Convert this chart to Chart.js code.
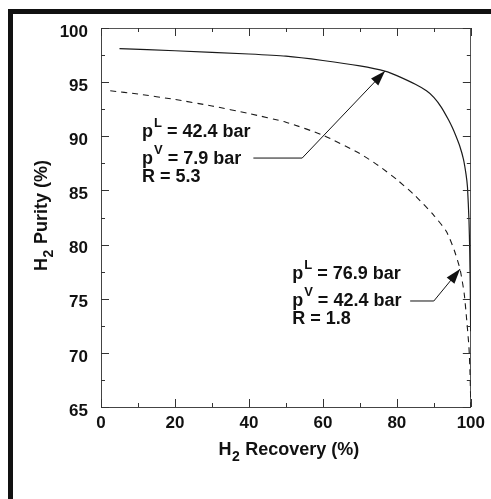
<!DOCTYPE html>
<html><head><meta charset="utf-8">
<script src="https://cdn.jsdelivr.net/npm/chart.js@4/dist/chart.umd.min.js"></script>
<style>
html,body{margin:0;padding:0;background:#fff;}
#wrap{position:relative;width:491px;height:499px;overflow:hidden;background:#fff;}
#frame{position:absolute;left:8px;top:9px;width:700px;height:700px;border-left:5px solid #111;border-top:5px solid #111;}
#box{position:absolute;left:0;top:0;width:491px;height:499px;}
</style></head><body>
<div id="wrap"><div id="frame"></div><div id="box"><canvas id="c"></canvas></div></div>
<script>
// ---- data ----
const xTicks = [0, 20, 40, 60, 80, 100];
const xMinor = [10, 30, 50, 70, 90];
const yTicks = [65, 70, 75, 80, 85, 90, 95, 100];
const yMinor = [67.5, 72.5, 77.5, 82.5, 87.5, 92.5, 97.5];

// solid curve: pL = 42.4 bar, pV = 7.9 bar, R = 5.3
const solidRecovery = [5, 20, 40, 50, 60, 70, 77, 80, 85, 88, 90, 92, 94, 95, 96, 97, 98, 98.7, 99.1, 99.5, 99.7, 99.85, 99.95];
const solidPurity   = [98.1, 97.9, 97.6, 97.4, 97.0, 96.5, 96.0, 95.6, 94.8, 94.2, 93.6, 92.7, 91.5, 90.8, 90.0, 89.1, 87.9, 86.5, 85.3, 82.3, 79.5, 76.0, 72.0];

// dashed curve: pL = 76.9 bar, pV = 42.4 bar, R = 1.8
const dashRecovery = [2.5, 10, 20, 30, 40, 50, 60, 70, 75, 80, 85, 90, 93.4, 95.5, 97.1, 98.2, 98.9, 99.5, 99.8, 100];
const dashPurity   = [94.2, 93.9, 93.4, 92.8, 92.1, 91.3, 90.1, 88.4, 87.3, 86.0, 84.5, 82.7, 81.2, 79.5, 77.7, 75.5, 73.0, 70.5, 68.0, 65.0];

const FONT = '"Liberation Sans", Arial, Helvetica, sans-serif';

// annotation labels (text, superscript, rest)
const ann1Lines = [['p', 'L', ' = 42.4 bar'], ['p', 'V', ' = 7.9 bar'], ['R', '', ' = 5.3']];
const ann2Lines = [['p', 'L', ' = 76.9 bar'], ['p', 'V', ' = 42.4 bar'], ['R', '', ' = 1.8']];
const annotations = [
  {lines: ann1Lines, at: [11.1, 89.93], start: [41.2, 87.99], knee: [54.4, 87.99], tip: [76.8, 96.02]},
  {lines: ann2Lines, at: [51.7, 76.82], start: [83.6, 74.79], knee: [90.0, 74.79], tip: [97.1, 77.74]}
];

const toPts = (xs, ys) => xs.map((x, i) => ({x: x, y: ys[i]}));

const tickPlugin = {
  id: 'inwardTicks',
  afterDatasetsDraw(chart) {
    const ctx = chart.ctx;
    const xs = chart.scales.x, ys = chart.scales.y;
    const {left, right, top, bottom} = chart.chartArea;
    ctx.save();
    ctx.strokeStyle = '#333';
    ctx.lineWidth = 1;
    const seg = (x1, y1, x2, y2) => { ctx.beginPath(); ctx.moveTo(x1, y1); ctx.lineTo(x2, y2); ctx.stroke(); };
    xTicks.forEach(v => { const p = Math.round(xs.getPixelForValue(v)) + 0.5; seg(p, bottom, p, bottom - 8); seg(p, top, p, top + 8); });
    xMinor.forEach(v => { const p = Math.round(xs.getPixelForValue(v)) + 0.5; seg(p, bottom, p, bottom - 4); seg(p, top, p, top + 4); });
    yTicks.forEach(v => { const p = Math.round(ys.getPixelForValue(v)) + 0.5; seg(left, p, left + 8, p); seg(right, p, right - 8, p); });
    yMinor.forEach(v => { const p = Math.round(ys.getPixelForValue(v)) + 0.5; seg(left, p, left + 4, p); seg(right, p, right - 4, p); });
    ctx.restore();
  }
};

const textPlugin = {
  id: 'texts',
  afterDraw(chart) {
    const ctx = chart.ctx;
    const xs = chart.scales.x, ys = chart.scales.y;
    const ca = chart.chartArea;
    ctx.save();
    ctx.fillStyle = '#111';
    ctx.strokeStyle = '#111';
    // axis titles with subscript
    const drawSub = (parts, cx, cy) => {
      const big = 'bold 18px ' + FONT, small = 'bold 14px ' + FONT;
      ctx.font = big; const w1 = ctx.measureText(parts[0]).width;
      ctx.font = small; const w2 = ctx.measureText(parts[1]).width + 1;
      ctx.font = big; const w3 = ctx.measureText(parts[2]).width;
      let x = cx - (w1 + w2 + w3) / 2;
      ctx.textBaseline = 'alphabetic'; ctx.textAlign = 'left';
      ctx.font = big; ctx.fillText(parts[0], x, cy); x += w1;
      ctx.font = small; ctx.fillText(parts[1], x + 0.5, cy + 6); x += w2;
      ctx.font = big; ctx.fillText(parts[2], x, cy);
    };
    drawSub(['H', '2', ' Recovery (%)'], (ca.left + ca.right) / 2 + 3, 455);
    ctx.save();
    ctx.translate(47, (ca.top + ca.bottom) / 2 - 2);
    ctx.rotate(-Math.PI / 2);
    drawSub(['H', '2', ' Purity (%)'], 0, 0);
    ctx.restore();

    // annotations
    annotations.forEach(a => {
      const x0 = xs.getPixelForValue(a.at[0]);
      let y0 = ys.getPixelForValue(a.at[1]);
      ctx.textAlign = 'left'; ctx.textBaseline = 'alphabetic';
      const gaps = [0, 26.5, 18];
      a.lines.forEach((ln, i) => {
        y0 += gaps[i];
        let x = x0;
        ctx.font = 'bold 18px ' + FONT;
        ctx.fillText(ln[0], x, y0); x += ctx.measureText(ln[0]).width;
        if (ln[1]) {
          ctx.font = 'bold 13px ' + FONT;
          ctx.fillText(ln[1], x + 1, y0 - 10); x += ctx.measureText(ln[1]).width + 1;
        }
        ctx.font = 'bold 18px ' + FONT;
        ctx.fillText(ln[2], x, y0);
      });
      const s = [xs.getPixelForValue(a.start[0]), ys.getPixelForValue(a.start[1])];
      const k = [xs.getPixelForValue(a.knee[0]), ys.getPixelForValue(a.knee[1])];
      const t = [xs.getPixelForValue(a.tip[0]), ys.getPixelForValue(a.tip[1])];
      ctx.lineWidth = 1;
      ctx.beginPath(); ctx.moveTo(s[0], s[1]); ctx.lineTo(k[0], k[1]); ctx.lineTo(t[0], t[1]); ctx.stroke();
      const ang = Math.atan2(t[1] - k[1], t[0] - k[0]);
      const L = 15, W = 5;
      const bx = t[0] - L * Math.cos(ang), by = t[1] - L * Math.sin(ang);
      ctx.beginPath();
      ctx.moveTo(t[0], t[1]);
      ctx.lineTo(bx + W * Math.sin(ang), by - W * Math.cos(ang));
      ctx.lineTo(bx - W * Math.sin(ang), by + W * Math.cos(ang));
      ctx.closePath(); ctx.fill();
    });
    ctx.restore();
  }
};

const hiddenAxis = (pos, min, max, fitKey) => ({
  type: 'linear', position: pos, min: min, max: max,
  ticks: {display: false},
  grid: {drawOnChartArea: false, drawTicks: false},
  border: {display: true, color: '#555', width: 1},
  afterFit: s => { s[fitKey] = 0; }
});

new Chart(document.getElementById('c'), {
  type: 'scatter',
  data: {
    datasets: [
      {data: toPts(solidRecovery, solidPurity), showLine: true, borderColor: '#1a1a1a', borderWidth: 1.2, pointRadius: 0, tension: 0.15, xAxisID: 'x', yAxisID: 'y'},
      {data: toPts(dashRecovery, dashPurity), showLine: true, borderColor: '#1a1a1a', borderWidth: 1.1, borderDash: [6, 5], pointRadius: 0, tension: 0.2, xAxisID: 'x', yAxisID: 'y'}
    ]
  },
  options: {
    responsive: true, maintainAspectRatio: false, animation: false,
    layout: {padding: {left: 0, top: 28, right: 11, bottom: 0}},
    plugins: {legend: {display: false}, tooltip: {enabled: false}},
    scales: {
      x: {
        type: 'linear', position: 'bottom', min: 0, max: 100,
        afterBuildTicks: s => { s.ticks = xTicks.map(v => ({value: v})); },
        ticks: {color: '#111', font: {family: FONT, size: 17, weight: 'bold'}, padding: 6, maxRotation: 0, autoSkip: false},
        grid: {drawOnChartArea: false, drawTicks: false},
        border: {display: true, color: '#444', width: 1},
        afterFit: s => { s.height = 92; }
      },
      y: {
        type: 'linear', position: 'left', min: 65, max: 100,
        afterBuildTicks: s => { s.ticks = yTicks.map(v => ({value: v})); },
        ticks: {color: '#111', font: {family: FONT, size: 17, weight: 'bold'}, padding: 13, labelOffset: 4, autoSkip: false},
        grid: {drawOnChartArea: false, drawTicks: false},
        border: {display: true, color: '#444', width: 1},
        afterFit: s => { s.width = 101; }
      },
      x2: hiddenAxis('top', 0, 100, 'height'),
      y2: hiddenAxis('right', 65, 100, 'width')
    }
  },
  plugins: [tickPlugin, textPlugin]
});
</script>
</body></html>
